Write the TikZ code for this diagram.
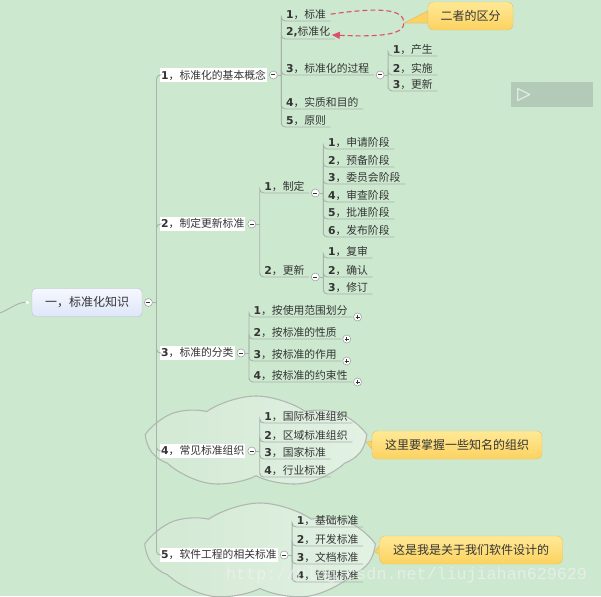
\documentclass[tikz,border=0pt]{standalone}
\usepackage{fontspec}
\setmainfont{Noto Sans CJK SC}
\newfontfamily\digitfont{DejaVu Sans}
\newfontfamily\markfont{Liberation Mono}
\usepackage{xcolor}
\usepackage{tikz}
\usetikzlibrary{shapes.symbols, arrows.meta, positioning, calc, backgrounds}
\pgfdeclarelayer{backdrop}
\pgfsetlayers{backdrop,background,main}
\definecolor{bggreen}{RGB}{204, 232, 207}
\definecolor{linegray}{RGB}{168, 178, 170}
\definecolor{textgray}{RGB}{52, 52, 52}
\definecolor{cloudleft}{RGB}{210, 233, 211}
\definecolor{cloudright}{RGB}{226, 241, 227}
\definecolor{cloudedge}{RGB}{176, 184, 177}
\definecolor{roottop}{RGB}{246, 248, 255}
\definecolor{rootbot}{RGB}{222, 230, 248}
\definecolor{rootedge}{RGB}{186, 192, 206}
\definecolor{notetop}{RGB}{255, 233, 150}
\definecolor{notebot}{RGB}{252, 210, 96}
\definecolor{noteedge}{RGB}{226, 194, 108}
\definecolor{linkred}{RGB}{222, 78, 104}
\definecolor{playgray}{RGB}{178, 202, 183}
\definecolor{playicon}{RGB}{224, 236, 226}

\newcommand{\itemno}[1]{{\digitfont\bfseries #1}}

\begin{document}
\begin{tikzpicture}[
    x=1pt, y=-1pt,
    topic/.style={
        anchor=south west, inner xsep=4.5pt, inner ysep=1.5pt,
        font=\fontsize{10.8}{12}\selectfont, text=textgray
    },
    topone/.style={
        anchor=west, fill=white, inner xsep=1pt, inner ysep=2pt,
        font=\fontsize{10.8}{12}\selectfont, text=textgray
    },
    root/.style={
        rectangle, rounded corners=4pt,
        draw=rootedge, top color=roottop, bottom color=rootbot,
        minimum width=110pt, minimum height=28pt,
        font=\fontsize{12}{14}\selectfont, text=textgray
    },
    branch/.style={draw=linegray, line width=0.9pt, rounded corners=4pt},
    minusbtn/.style={
        circle, draw=black!40, fill=white, line width=0.5pt,
        minimum size=8pt, inner sep=0pt,
        path picture={\draw[line width=1pt, black!80]
            ([xshift=-2pt]path picture bounding box.center) --
            ([xshift=2pt]path picture bounding box.center);}
    },
    plusbtn/.style={
        minusbtn,
        path picture={\draw[line width=1pt, black!80]
            ([xshift=-2pt]path picture bounding box.center) --
            ([xshift=2pt]path picture bounding box.center)
            ([yshift=-2pt]path picture bounding box.center) --
            ([yshift=2pt]path picture bounding box.center);}
    },
    inlet/.style={circle, fill=white, minimum size=3.5pt, inner sep=0pt},
    cloudzone/.style={
        cloud, cloud puffs=7, cloud puff arc=70, cloud ignores aspect,
        draw=cloudedge, line width=1.1pt,
        left color=cloudleft, right color=cloudright, inner sep=0pt
    },
    note/.style={
        rectangle, rounded corners=5pt,
        draw=noteedge, top color=notetop, bottom color=notebot,
        minimum height=28pt, inner xsep=8pt,
        font=\fontsize{12}{14}\selectfont, text=textgray
    },
    notewedge/.style={fill=notebot, draw=noteedge, line width=0.6pt, line join=round},
    difflink/.style={
        draw=linkred, dash pattern=on 5pt off 3pt, line width=1.1pt,
        -{Triangle[length=8pt, width=7pt]}
    },
    playbox/.style={rectangle, fill=playgray, minimum width=82pt, minimum height=25pt},
    watermark/.style={
        anchor=west, inner sep=0pt, text=white!88!gray, opacity=0.75,
        font=\markfont\fontsize{16.7}{18}\selectfont
    }
]

\useasboundingbox (0,0) rectangle (601,596);
\begin{pgfonlayer}{backdrop}
    \fill[bggreen] (0,0) rectangle (601,596);
\end{pgfonlayer}

% ==============================================================================
% ROOT: 一，标准化知识
% ==============================================================================
\node[root] (knowledge) at (87,302.5) {一，标准化知识};
\node[minusbtn, right=2pt of knowledge.east] (mroot) {};
\coordinate (hroot) at ([xshift=8pt]mroot.center);
\draw[branch] (mroot) -- (hroot);

\node[inlet, left=2.5pt of knowledge.west] (inlet) {};
\coordinate (offpage) at (0,313);
\draw[branch] (offpage) .. controls (10,309) and (18,302) .. (inlet);

% ==============================================================================
% LEVEL 1: FIVE MAIN TOPICS
% ==============================================================================
\foreach \n/\t/\y [count=\i] in {concept/标准化的基本概念/75, update/制定更新标准/224,
        category/标准的分类/353, org/常见标准组织/451, software/软件工程的相关标准/555} {
    \node[topone] (\n) at (160,\y) {\itemno{\i}，\t};
    \draw[branch] (hroot) |- (\n.west);
    \node[minusbtn, right=2pt of \n.east] (m\n) {};
    \coordinate (h\n) at ([xshift=8pt]m\n.center);
    \draw[branch] (m\n) -- (h\n);
}

% ==============================================================================
% GROUP 1: 标准化的基本概念
% ==============================================================================
\node[topic] (std) at (hconcept |- 0,21) {\itemno{1}，标准};
\node[topic] (stdize) at (hconcept |- 0,39) {\itemno{2,}标准化};
\node[topic] (process) at (hconcept |- 0,75) {\itemno{3}，标准化的过程};
\node[topic] (essence) at (hconcept |- 0,109) {\itemno{4}，实质和目的};
\node[topic] (principle) at (hconcept |- 0,127) {\itemno{5}，原则};

\foreach \n in {std, stdize, process, essence, principle}
    \draw[branch] (hconcept) |- (\n.south west) -- (\n.south east);

\node[minusbtn, right=2pt of process.south east] (mprocess) {};
\coordinate (hprocess) at ([xshift=8pt]mprocess.center);
\draw[branch] (mprocess) -- (hprocess);

\foreach \t/\y [count=\i] in {产生/56, 实施/75, 更新/91} {
    \node[topic] (proc\i) at (hprocess |- 0,\y) {\itemno{\i}，\t};
    \draw[branch] (hprocess) |- (proc\i.south west) -- (proc\i.south east);
}

% dashed link between 标准 and 标准化, with its note
\coordinate (bend) at (404,23);
\draw[difflink] (std.east) .. controls (380,7) and (404,9) .. (bend)
    .. controls (404,35) and (380,37) .. ([xshift=-3pt, yshift=-3pt]stdize.east);

\node[note, minimum width=85pt] (diffnote) at (470.5,16) {二者的区分};
\begin{scope}[on background layer]
    \fill[notewedge] (bend) -- ([yshift=5pt]diffnote.west) -- ([yshift=-7pt]diffnote.west) -- cycle;
\end{scope}

% ==============================================================================
% GROUP 2: 制定更新标准
% ==============================================================================
\node[topic] (draft) at (hupdate |- 0,193) {\itemno{1}，制定};
\node[topic] (revise) at (hupdate |- 0,277) {\itemno{2}，更新};

\foreach \n in {draft, revise} {
    \draw[branch] (hupdate) |- (\n.south west) -- (\n.south east);
    \node[minusbtn, right=2pt of \n.south east] (m\n) {};
    \coordinate (h\n) at ([xshift=8pt]m\n.center);
    \draw[branch] (m\n) -- (h\n);
}

\foreach \t/\y [count=\i] in {申请阶段/149, 预备阶段/167, 委员会阶段/184,
        审查阶段/202, 批准阶段/219, 发布阶段/237} {
    \node[topic] (stage\i) at (hdraft |- 0,\y) {\itemno{\i}，\t};
    \draw[branch] (hdraft) |- (stage\i.south west) -- (stage\i.south east);
}

\foreach \t/\y [count=\i] in {复审/258, 确认/277, 修订/294} {
    \node[topic] (rev\i) at (hrevise |- 0,\y) {\itemno{\i}，\t};
    \draw[branch] (hrevise) |- (rev\i.south west) -- (rev\i.south east);
}

% ==============================================================================
% GROUP 3: 标准的分类 (collapsed children)
% ==============================================================================
\foreach \t/\y [count=\i] in {按使用范围划分/317, 按标准的性质/339, 按标准的作用/361, 按标准的约束性/382} {
    \node[topic] (cls\i) at (hcategory |- 0,\y) {\itemno{\i}，\t};
    \draw[branch] (hcategory) |- (cls\i.south west) -- (cls\i.south east);
    \node[plusbtn, right=1pt of cls\i.south east] (pcls\i) {};
}

% ==============================================================================
% GROUP 4: 常见标准组织 (cloud + note)
% ==============================================================================
\begin{scope}[on background layer]
    \node[cloudzone, minimum width=214pt, minimum height=92pt] (orgcloud) at (256,442) {};
\end{scope}

\foreach \t/\y [count=\i] in {国际标准组织/423, 区域标准组织/442, 国家标准/459, 行业标准/477} {
    \node[topic] (orgs\i) at (horg |- 0,\y) {\itemno{\i}，\t};
    \draw[branch] (horg) |- (orgs\i.south west) -- (orgs\i.south east);
}

\node[note, minimum width=170pt] (orgnote) at (457,445) {这里要掌握一些知名的组织};
\begin{scope}[on background layer]
    \fill[notewedge] (orgcloud.east) -- ([yshift=4pt]orgnote.west) -- ([yshift=-4pt]orgnote.west) -- cycle;
\end{scope}

% ==============================================================================
% GROUP 5: 软件工程的相关标准 (cloud + note)
% ==============================================================================
\begin{scope}[on background layer]
    \node[cloudzone, minimum width=223pt, minimum height=98pt] (swcloud) at (260,552) {};
\end{scope}

\foreach \t/\y [count=\i] in {基础标准/527, 开发标准/546, 文档标准/564, 管理标准/582} {
    \node[topic] (sw\i) at (hsoftware |- 0,\y) {\itemno{\i}，\t};
    \draw[branch] (hsoftware) |- (sw\i.south west) -- (sw\i.south east);
}

\node[note, minimum width=183pt] (swnote) at (471,550) {这是我是关于我们软件设计的};
\begin{scope}[on background layer]
    \fill[notewedge] (swcloud.east) -- ([yshift=4pt]swnote.west) -- ([yshift=-4pt]swnote.west) -- cycle;
\end{scope}

% ==============================================================================
% EXTRAS: player box and watermark
% ==============================================================================
\node[playbox] (player) at (552,94.5) {};
\draw[playicon, line width=1.2pt, line join=round]
    ([xshift=7pt, yshift=6pt]player.west) -- ([xshift=7pt, yshift=-6pt]player.west)
    -- ([xshift=19pt]player.west) -- cycle;

\node[watermark] (mark) at (226,575) {http://blog.csdn.net/liujiahan629629};

\end{tikzpicture}
\end{document}
